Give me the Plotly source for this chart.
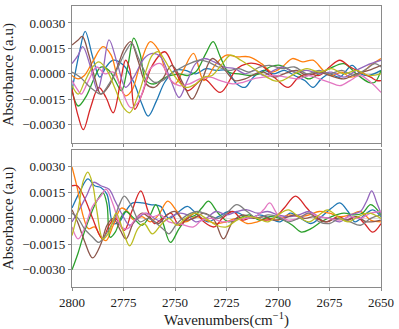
import plotly.graph_objects as go
from plotly.subplots import make_subplots

# matplotlib tab10 colours, in plot order
colors = ['#1f77b4', '#ff7f0e', '#2ca02c', '#d62728', '#9467bd',
          '#8c564b', '#e377c2', '#7f7f7f', '#bcbd22']

x_ticks = [2800, 2775, 2750, 2725, 2700, 2675, 2650]
y_ticks = [0.0030, 0.0015, 0.0, -0.0015, -0.0030]
y_tick_text = ['0.0030', '0.0015', '0.0000', '\u22120.0015', '\u22120.0030']

# upper panel: (wavenumber, absorbance)
top_blue = [(2800, -0.0010), (2796.5, 0.0012), (2793.6, 0.0025), (2790, 0.0010), (2786.5, -0.0002),
            (2783.5, 0.0004), (2780, 0.0008), (2775, 0.0005), (2770, -0.0005), (2766, -0.0018),
            (2763, -0.0025), (2759, -0.0016), (2755, -0.0005), (2750, 0.0002), (2745, 0.0002),
            (2740, 0.0000), (2735, 0.0003), (2730, 0.0002), (2725, 0.0002), (2720, -0.0006),
            (2716, -0.0008), (2712, -0.0002), (2707, 0.0002), (2702, 0.0000), (2697, 0.0002),
            (2692, -0.0001), (2687, -0.0004), (2683, -0.0008), (2679, -0.0003), (2675, 0.0000),
            (2670, -0.0002), (2664, 0.0005), (2660, 0.0000), (2656, -0.0001), (2650, 0.0002)]
top_orange = [(2800, -0.0001), (2797, -0.0003), (2794, -0.0001), (2790, 0.0007), (2785, 0.0016),
              (2781, 0.0011), (2778, -0.0002), (2774, -0.0013), (2771, -0.0010), (2767, 0.0005),
              (2762, 0.0019), (2758, 0.0014), (2754, 0.0000), (2750, -0.0006), (2746, 0.0002),
              (2741, 0.0012), (2736, -0.0004), (2730, 0.0006), (2725, 0.0011), (2720, 0.0010),
              (2714, 0.0010), (2708, 0.0006), (2703, 0.0001), (2698, 0.0004), (2693, 0.0009),
              (2688, 0.0007), (2683, 0.0008), (2678, 0.0002), (2674, -0.0001), (2669, 0.0001),
              (2665, -0.0002), (2660, 0.0000), (2655, 0.0005), (2650, 0.0009)]
top_green = [(2800, -0.0010), (2797, -0.0019), (2793, -0.0013), (2789, -0.0002), (2786, 0.0004),
             (2782, 0.0002), (2779, -0.0004), (2776, -0.0010), (2773, 0.0004), (2770, 0.0021),
             (2767, 0.0012), (2764, -0.0004), (2760, -0.0006), (2756, -0.0003), (2752, -0.0001),
             (2748, 0.0000), (2744, -0.0001), (2740, 0.0001), (2735, 0.0012), (2731.5, 0.0019),
             (2728, 0.0010), (2724, 0.0001), (2719, 0.0000), (2714, -0.0001), (2709, 0.0000),
             (2704, 0.0004), (2699, 0.0005), (2694, 0.0002), (2690, 0.0000), (2685, -0.0003),
             (2680, 0.0000), (2675, 0.0003), (2668, 0.0006), (2662, 0.0000), (2656, -0.0005),
             (2653, -0.0005), (2650, 0.0002)]
top_red = [(2800, -0.0009), (2797, -0.0025), (2794.5, -0.0033), (2791, -0.0020), (2787, -0.0008),
           (2783.5, -0.0014), (2780, -0.0023), (2776.5, -0.0005), (2774, 0.0008), (2772, 0.0003),
           (2769.5, -0.0021), (2766, -0.0012), (2761, 0.0005), (2755, 0.0013), (2750, 0.0002),
           (2744, -0.0010), (2736, -0.0003), (2728, -0.0011), (2720, 0.0003), (2715, 0.0006),
           (2711, 0.0006), (2707, 0.0004), (2701, -0.0003), (2695, -0.0008), (2690, -0.0002),
           (2685, 0.0000), (2680, -0.0001), (2675, 0.0004), (2670, 0.0008), (2665, 0.0004),
           (2660, 0.0001), (2655, -0.0002), (2652, -0.0004), (2650, -0.0004)]
top_purple = [(2800, 0.0006), (2797, 0.0011), (2794.8, 0.0016), (2791, 0.0004), (2787.6, -0.0010),
              (2785, 0.0002), (2782, 0.0020), (2778, 0.0006), (2774, -0.0008), (2770, -0.0002),
              (2765, 0.0009), (2761, 0.0012), (2757, 0.0010), (2752, -0.0004), (2748, -0.0014),
              (2744, -0.0004), (2740, 0.0006), (2736, 0.0009), (2731, 0.0007), (2726, 0.0004),
              (2721, 0.0003), (2716, 0.0000), (2711, 0.0002), (2707, -0.0001), (2702, 0.0002),
              (2698, 0.0004), (2692, 0.0001), (2686, 0.0002), (2680, 0.0000), (2674, 0.0001),
              (2668, -0.0002), (2662, 0.0002), (2657, 0.0005), (2650, 0.0008)]
top_brown = [(2800, 0.0017), (2797, 0.0020), (2795, 0.0022), (2792, 0.0012), (2789, -0.0002),
             (2786, -0.0012), (2782, -0.0007), (2778, 0.0004), (2774.5, 0.0015), (2771.5, 0.0019),
             (2768, 0.0008), (2764, -0.0006), (2760, -0.0008), (2756, -0.0003), (2751.5, 0.0005),
             (2746, -0.0006), (2741.7, -0.0015), (2737, -0.0004), (2732, 0.0009), (2727, 0.0004),
             (2721, -0.0004), (2716, -0.0003), (2711, 0.0000), (2707, 0.0001), (2702, -0.0002),
             (2697, 0.0000), (2691, 0.0002), (2686, -0.0001), (2680, 0.0001), (2675, -0.0001),
             (2668, -0.0003), (2662, 0.0000), (2656, 0.0002), (2650, 0.0005)]
top_pink = [(2800, -0.0004), (2797.5, -0.0009), (2795.5, -0.0012), (2792, -0.0004), (2788, 0.0004),
            (2784, 0.0000), (2780, 0.0001), (2776, -0.0009), (2771.5, -0.0020), (2768, -0.0017),
            (2765, -0.0008), (2762, 0.0003), (2757, 0.0006), (2752, -0.0004), (2748, -0.0007),
            (2743, -0.0006), (2738, -0.0003), (2733, -0.0002), (2728, -0.0004), (2722, -0.0006),
            (2717, -0.0005), (2712, -0.0003), (2707, -0.0002), (2702, -0.0001), (2696, -0.0002),
            (2690, -0.0003), (2685, -0.0001), (2680, -0.0003), (2675, -0.0005), (2670, -0.0007),
            (2665, -0.0004), (2660, -0.0001), (2655, -0.0005), (2650, -0.0011)]
top_gray = [(2800, 0.0001), (2796, -0.0002), (2792, -0.0007), (2789, -0.0010), (2786, -0.0012),
            (2782, -0.0006), (2778, 0.0003), (2774, 0.0013), (2771, 0.0018), (2768, 0.0010),
            (2764, 0.0000), (2760, -0.0005), (2756, -0.0004), (2752, 0.0000), (2748, 0.0003),
            (2743, 0.0006), (2738, 0.0008), (2734, 0.0007), (2729, 0.0004), (2724, 0.0002),
            (2719, 0.0003), (2714, 0.0001), (2709, 0.0004), (2704, 0.0005), (2698, 0.0003),
            (2692, 0.0004), (2686, 0.0000), (2680, 0.0002), (2675, 0.0000), (2669, 0.0002),
            (2663, -0.0001), (2657, 0.0003), (2653, 0.0006), (2650, 0.0004)]
top_olive = [(2800, -0.0007), (2797, -0.0012), (2794, -0.0005), (2790, 0.0004), (2787, 0.0007),
             (2783, 0.0002), (2779, -0.0009), (2775, -0.0020), (2772, -0.0023), (2768, -0.0013),
             (2764, 0.0002), (2761, 0.0011), (2758, 0.0013), (2755, 0.0008), (2751, 0.0000),
             (2745, -0.0008), (2740, -0.0006), (2736, -0.0002), (2732, -0.0001), (2727, 0.0006),
             (2723, 0.0011), (2718, 0.0008), (2713, 0.0004), (2708, 0.0000), (2702, -0.0004),
             (2698, -0.0004), (2692, 0.0000), (2686, 0.0003), (2680, 0.0001), (2674, 0.0003),
             (2668, 0.0000), (2662, 0.0002), (2656, -0.0001), (2650, 0.0000)]

# lower panel
bot_blue = [(2800, 0.0006), (2796, 0.0016), (2792.3, 0.0023), (2789, 0.0019), (2786, 0.0018),
            (2783, 0.0014), (2780, -0.0003), (2777, -0.0002), (2774, 0.0004), (2770.5, 0.0009),
            (2766, 0.0009), (2762, 0.0008), (2757, 0.0007), (2753, 0.0000), (2748, 0.0004),
            (2744, 0.0007), (2739, 0.0002), (2734, -0.0002), (2729, 0.0001), (2724, 0.0004),
            (2719, 0.0003), (2714, 0.0000), (2709, 0.0002), (2704, 0.0000), (2699, -0.0002),
            (2694, 0.0003), (2689, 0.0000), (2684, -0.0003), (2679, 0.0001), (2674, 0.0006),
            (2670, 0.0009), (2666, 0.0004), (2662.7, -0.0002), (2658, 0.0002), (2654, 0.0005),
            (2650, 0.0001)]
bot_orange = [(2800, 0.0030), (2797.5, 0.0018), (2794.5, 0.0001), (2792, -0.0006), (2789, -0.0005),
              (2786, -0.0011), (2783.5, -0.0013), (2780, -0.0004), (2776, 0.0006), (2773, 0.0004),
              (2770, -0.0001), (2766, 0.0001), (2762, -0.0002), (2758, 0.0002), (2753.5, 0.0010),
              (2749, 0.0004), (2745, -0.0002), (2740, 0.0001), (2735, -0.0001), (2730, -0.0003),
              (2725, -0.0002), (2720, 0.0000), (2715, -0.0003), (2710, -0.0002), (2705, 0.0000),
              (2700, -0.0001), (2695, 0.0002), (2690, 0.0001), (2685, 0.0002), (2680, 0.0004),
              (2675, 0.0003), (2670, 0.0001), (2665, 0.0002), (2660, 0.0004), (2655, -0.0001),
              (2650, -0.0002)]
bot_green = [(2800, -0.0030), (2797, -0.0020), (2794, -0.0008), (2791, 0.0002), (2788, 0.0010),
             (2785, 0.0015), (2783, 0.0008), (2781.5, -0.0011), (2779, -0.0008), (2776, 0.0001),
             (2773.8, 0.0004), (2770, 0.0000), (2766, -0.0004), (2762, 0.0002), (2759.3, 0.0008),
             (2756, -0.0002), (2752.2, -0.0014), (2748, -0.0006), (2744, 0.0000), (2740, 0.0002),
             (2737, 0.0006), (2733.7, 0.0010), (2729, 0.0003), (2724, -0.0002), (2719, 0.0000),
             (2714, 0.0002), (2709, -0.0001), (2704, 0.0001), (2699, 0.0000), (2693, -0.0004),
             (2688.7, -0.0008), (2684, -0.0006), (2679, -0.0002), (2674, 0.0001), (2668, 0.0003),
             (2663, 0.0002), (2659, 0.0003), (2655, 0.0008), (2650, 0.0002)]
bot_red = [(2800, 0.0019), (2797.5, 0.0019), (2794, 0.0012), (2790, 0.0000), (2786.5, -0.0010),
           (2785, -0.0012), (2782, -0.0004), (2779, 0.0000), (2774.6, -0.0007), (2771, 0.0004),
           (2766.6, 0.0016), (2763, 0.0004), (2760, -0.0003), (2756, 0.0000), (2752, 0.0003),
           (2748, -0.0004), (2744, 0.0000), (2740, 0.0003), (2736, -0.0002), (2731, -0.0005),
           (2727, 0.0000), (2722, 0.0004), (2717, -0.0001), (2712, 0.0001), (2707, -0.0001),
           (2702, 0.0000), (2697, 0.0006), (2691.5, 0.0013), (2686, 0.0006), (2681, 0.0000),
           (2676, -0.0002), (2671, 0.0001), (2666, -0.0001), (2662, 0.0001), (2658, -0.0003),
           (2654, -0.0008), (2650, -0.0003)]
bot_purple = [(2800, -0.0002), (2797, 0.0004), (2793, 0.0013), (2789.5, 0.0021), (2786, 0.0019),
              (2782, 0.0017), (2779, 0.0010), (2776, 0.0003), (2772, -0.0004), (2768, 0.0000),
              (2764, 0.0003), (2760, 0.0000), (2756, -0.0002), (2752, 0.0001), (2748, 0.0003),
              (2744, 0.0002), (2740, -0.0002), (2735, 0.0000), (2730, 0.0004), (2725, 0.0002),
              (2720, 0.0004), (2715, 0.0005), (2710, 0.0003), (2705, 0.0004), (2700, 0.0002),
              (2695, 0.0001), (2690, 0.0002), (2685, 0.0004), (2680, 0.0001), (2675, 0.0000),
              (2670, -0.0002), (2665, 0.0002), (2660, 0.0004), (2657, 0.0010), (2654.5, 0.0016),
              (2652, 0.0009), (2650, 0.0003)]
bot_brown = [(2800, 0.0005), (2797, -0.0003), (2794, -0.0013), (2790, -0.0023), (2786, -0.0015),
             (2783, -0.0004), (2780, 0.0000), (2776.5, -0.0007), (2773.8, -0.0012), (2770, -0.0002),
             (2766, 0.0003), (2762, 0.0000), (2758, -0.0003), (2754, 0.0002), (2750, 0.0004),
             (2746, -0.0001), (2741, 0.0000), (2736, 0.0003), (2731, -0.0001), (2726.5, -0.0012),
             (2722, -0.0002), (2717, 0.0002), (2712, 0.0000), (2707, 0.0001), (2702, -0.0001),
             (2697, 0.0000), (2692, 0.0002), (2687, 0.0000), (2682, 0.0001), (2677, -0.0002),
             (2672, 0.0000), (2667, -0.0001), (2662, 0.0001), (2657, -0.0002), (2650, -0.0001)]
bot_pink = [(2800, -0.0005), (2797, -0.0012), (2794, -0.0006), (2790, 0.0007), (2786, 0.0013),
            (2783.5, 0.0017), (2780, 0.0008), (2776, -0.0005), (2773, -0.0006), (2769, 0.0000),
            (2765, 0.0003), (2761, 0.0001), (2757, 0.0002), (2753, -0.0002), (2748, -0.0003),
            (2741, -0.0005), (2737, -0.0001), (2732, 0.0000), (2727, -0.0002), (2721, -0.0001),
            (2716, 0.0000), (2711, 0.0001), (2707, 0.0005), (2704, 0.0009), (2700, 0.0002),
            (2695, -0.0001), (2690, 0.0000), (2685, 0.0003), (2680, 0.0001), (2675, 0.0000),
            (2670, -0.0001), (2665, 0.0001), (2660, 0.0000), (2655, 0.0003), (2650, 0.0004)]
bot_gray = [(2800, 0.0003), (2797, 0.0000), (2794, -0.0006), (2790, -0.0011), (2787, -0.0014),
            (2784, -0.0010), (2780, -0.0002), (2777, 0.0008), (2774.6, 0.0013), (2771, 0.0007),
            (2767, -0.0002), (2763, 0.0000), (2759, -0.0003), (2755, -0.0007), (2752.9, -0.0009),
            (2749, -0.0003), (2744, 0.0002), (2739, 0.0004), (2734, 0.0002), (2729, 0.0000),
            (2725, 0.0003), (2720, 0.0008), (2715, 0.0004), (2710, 0.0000), (2705, 0.0002),
            (2700, 0.0001), (2695, -0.0002), (2690, 0.0000), (2685, 0.0003), (2680, -0.0002),
            (2675, -0.0003), (2670, 0.0000), (2665, -0.0002), (2660, -0.0004), (2655, 0.0000),
            (2650, 0.0002)]
bot_olive = [(2800, -0.0010), (2797, 0.0005), (2794.5, 0.0022), (2792.3, 0.0027), (2790, 0.0020),
             (2788, 0.0005), (2785, -0.0012), (2782, -0.0008), (2778.6, 0.0003), (2775, -0.0008),
             (2772, -0.0016), (2768, -0.0006), (2765, -0.0003), (2761, -0.0009), (2757, -0.0004),
             (2753, 0.0000), (2749, -0.0004), (2745, 0.0000), (2740, 0.0003), (2735, 0.0000),
             (2730, -0.0004), (2725, -0.0005), (2720, -0.0001), (2715, 0.0001), (2710, 0.0000),
             (2705, -0.0002), (2700, 0.0002), (2695, 0.0005), (2690, 0.0001), (2685, -0.0002),
             (2680, 0.0002), (2676, 0.0005), (2671, 0.0001), (2666, -0.0002), (2661, 0.0001),
             (2656, 0.0003), (2650, 0.0000)]

top_series = [top_blue, top_orange, top_green, top_red, top_purple,
              top_brown, top_pink, top_gray, top_olive]
bot_series = [bot_blue, bot_orange, bot_green, bot_red, bot_purple,
              bot_brown, bot_pink, bot_gray, bot_olive]

fig = make_subplots(rows=2, cols=1, shared_xaxes=True, vertical_spacing=0.023)

for row, group in [(1, top_series), (2, bot_series)]:
    for pts, c in zip(group, colors):
        fig.add_trace(go.Scatter(
            x=[p[0] for p in pts], y=[p[1] for p in pts],
            mode='lines', line=dict(color=c, width=1.3, shape='spline', smoothing=1.0),
            showlegend=False, hoverinfo='skip'), row=row, col=1)

font_family = 'Liberation Serif'
frame = dict(showline=True, linecolor='#8a8a8a', linewidth=1.3, mirror=True,
             showgrid=True, gridcolor='#dcdcdc', gridwidth=1, zeroline=False,
             ticks='outside', ticklen=3, tickcolor='#8a8a8a')

for row in (1, 2):
    fig.update_xaxes(range=[2800, 2650], tickvals=x_ticks, row=row, col=1, **frame)
    fig.update_yaxes(tickvals=y_ticks, ticktext=y_tick_text, row=row, col=1,
                     title=dict(text='Absorbance (a.u)', standoff=6,
                                font=dict(size=15, family=font_family, color='#222')),
                     **frame)

fig.update_xaxes(showticklabels=False, row=1, col=1)
fig.update_xaxes(title=dict(text='Wavenumbers(cm<sup>\u22121</sup>)', standoff=4,
                            font=dict(size=15, family=font_family, color='#222')),
                 row=2, col=1)
fig.update_yaxes(range=[-0.0041, 0.0040], row=1, col=1)
fig.update_yaxes(range=[-0.0040, 0.0040], row=2, col=1)

fig.update_layout(
    width=399, height=329,
    margin=dict(l=72, r=16, t=5, b=38),
    paper_bgcolor='white', plot_bgcolor='white',
    font=dict(family=font_family, size=13, color='#222'),
)

# the page body has a default 8px margin; drop it so the figure sits at the corner
fig.write_html("out.html", config={'displayModeBar': False},
               post_script="document.body.style.margin='0';")
